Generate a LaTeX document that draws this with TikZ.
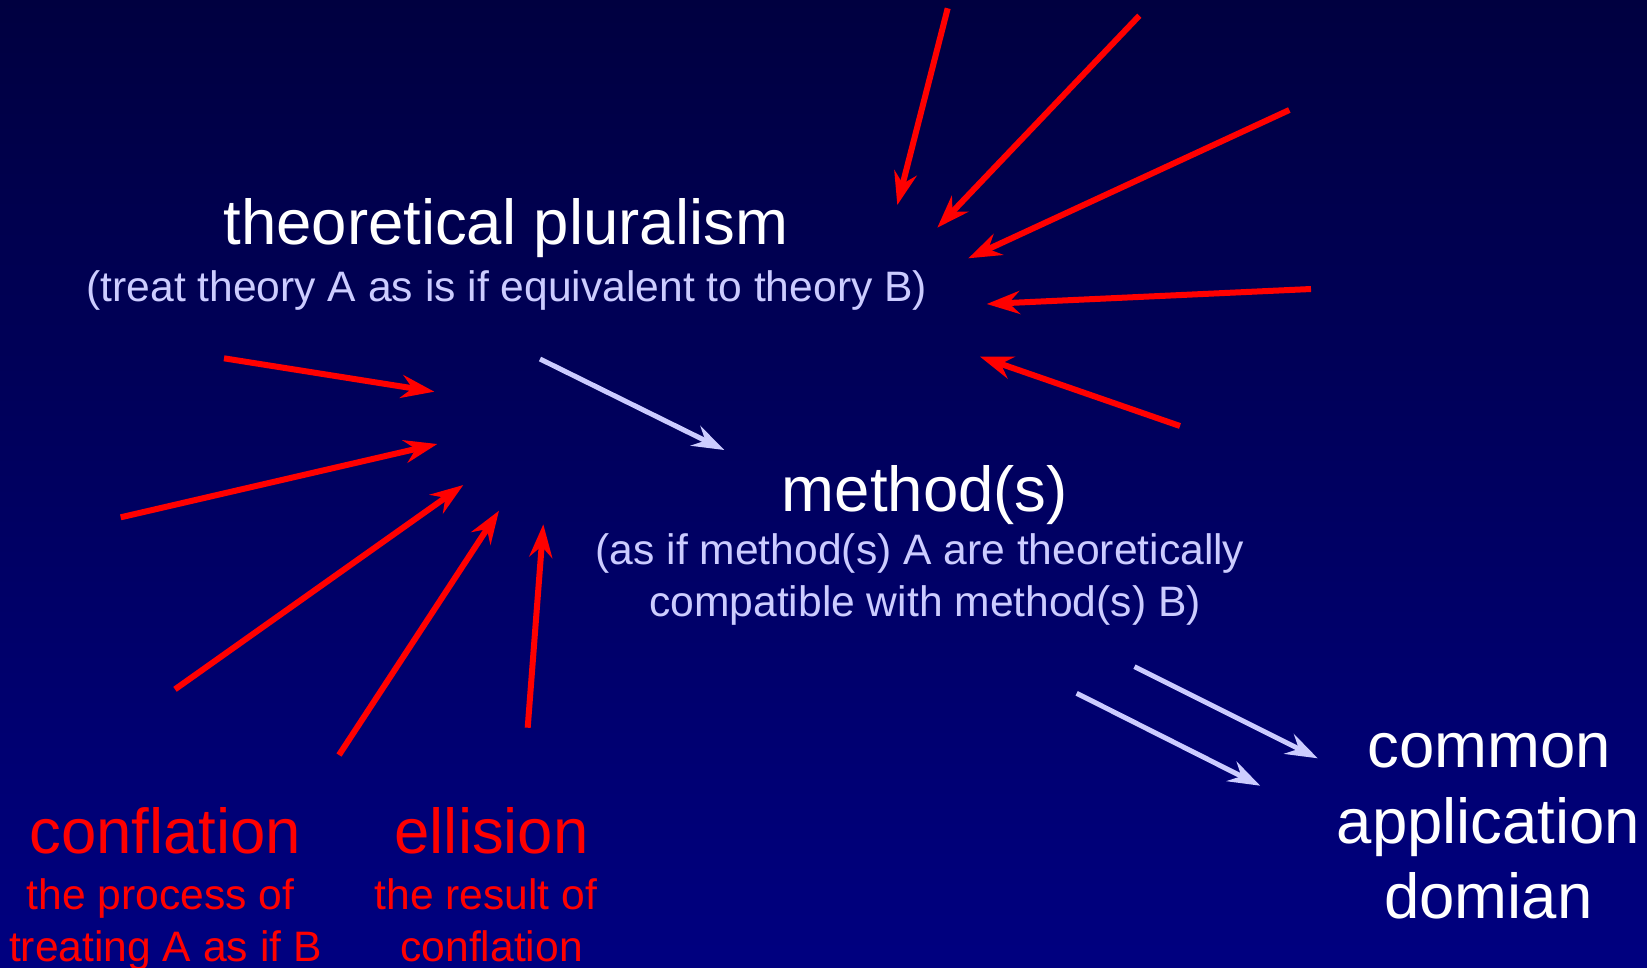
\documentclass[tikz,border=0pt]{standalone}
\usepackage{fontspec}
\setmainfont{Liberation Sans}
\usetikzlibrary{arrows.meta}
\definecolor{bgtop}{RGB}{0,0,64}
\definecolor{bgbot}{RGB}{0,0,128}
\definecolor{lav}{RGB}{204,204,255}
\definecolor{hot}{RGB}{255,0,0}
\begin{document}
\begin{tikzpicture}[x=1pt,y=-1pt,
  bigtxt/.style={anchor=base,inner sep=0pt,font=\fontsize{63.5}{70}\selectfont},
  smalltxt/.style={anchor=base,inner sep=0pt,font=\fontsize{42.6}{50}\selectfont},
  redarrow/.style={draw=hot,line width=6pt,-{Stealth[length=33pt,width=23pt,inset=11pt]}},
  lavarrow/.style={draw=lav,line width=5pt,-{Stealth[length=32pt,width=22pt,inset=11pt]}}
]
\fill[top color=bgtop,bottom color=bgbot] (0,0) rectangle (1647,967);
\useasboundingbox (0,0) rectangle (1647,967);

% texts
\node[bigtxt,white] (tp) at (505.8,244.7) {theoretical pluralism};
\node[smalltxt,lav] (tpsub) at (506.8,301.5) {(treat theory A as is if equivalent to theory B)};
\node[bigtxt,white] (meth) at (924.9,511.5) {method(s)};
\node[smalltxt,lav] (msub1) at (920,564) {(as if method(s) A are theoretically};
\node[smalltxt,lav] (msub2) at (925,616.6) {compatible with method(s) B)};
\node[bigtxt,white] (cad1) at (1489,767.5) {common};
\node[bigtxt,white] (cad2) at (1488.5,843.5) {application};
\node[bigtxt,white] (cad3) at (1488.5,918.5) {domian};
\node[bigtxt,hot] (conf) at (165.4,853.5) {conflation};
\node[smalltxt,hot] (conf1) at (160.5,909) {the process of};
\node[smalltxt,hot] (conf2) at (165.4,961.5) {treating A as if B};
\node[bigtxt,hot] (ell) at (491.6,853.5) {ellision};
\node[smalltxt,hot] (ell1) at (485.8,909) {the result of};
\node[smalltxt,hot] (ell2) at (491.6,961.5) {conflation};

% arrow end points
\coordinate (a1s) at (947.7,8.3);    \coordinate (a1e) at (897.3,205);
\coordinate (a2s) at (1139.3,15.7);  \coordinate (a2e) at (937.3,227.7);
\coordinate (a3s) at (1289.3,110);   \coordinate (a3e) at (968.3,258.3);
\coordinate (a4s) at (1311,289);     \coordinate (a4e) at (986.7,304);
\coordinate (a5s) at (1180,426);     \coordinate (a5e) at (980,356.7);
\coordinate (b1s) at (224,358.3);    \coordinate (b1e) at (434.3,391.7);
\coordinate (b2s) at (120.7,517.3);  \coordinate (b2e) at (437.3,444);
\coordinate (b3s) at (175,689.3);    \coordinate (b3e) at (463.3,485);
\coordinate (b4s) at (339,755);      \coordinate (b4e) at (499,510.7);
\coordinate (b5s) at (527.7,727.7);  \coordinate (b5e) at (543.3,524.3);
\coordinate (c1s) at (540,359);      \coordinate (c1e) at (724.3,450);
\coordinate (c2s) at (1134.5,666.7); \coordinate (c2e) at (1317.7,758.3);
\coordinate (c3s) at (1076.7,693.3); \coordinate (c3e) at (1260.2,785.7);

\foreach \n in {a1,a2,a3,a4,a5,b1,b2,b3,b4,b5}{
  \draw[redarrow] (\n s) -- (\n e);
}
\foreach \n in {c1,c2,c3}{
  \draw[lavarrow] (\n s) -- (\n e);
}
\end{tikzpicture}
\end{document}
